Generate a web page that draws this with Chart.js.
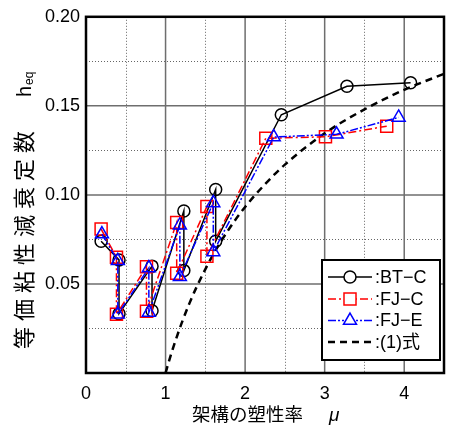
<!DOCTYPE html>
<html>
<head>
<meta charset="utf-8">
<script src="https://cdn.jsdelivr.net/npm/chart.js@4.4.1/dist/chart.umd.min.js"></script>
<style>
  html, body { margin: 0; padding: 0; background: #fff; }
  #wrap { width: 454px; height: 428px; }
</style>
</head>
<body>
<div id="wrap"><canvas id="c" width="454" height="428"></canvas></div>
<script>
// 架構の塑性率 μ と等価粘性減衰定数 heq の関係
const SERIES_NAMES = ['BT−C', 'FJ−C', 'FJ−E', '(1)式'];

const BT_C_MU = [0.19, 0.415, 0.415, 0.83, 0.83, 1.23, 1.23, 1.63, 1.63, 2.455, 3.28, 4.08];
const BT_C_H  = [0.074, 0.0635, 0.0333, 0.060, 0.035, 0.091, 0.0575, 0.103, 0.074, 0.145, 0.161, 0.163];

const FJ_C_MU = [0.19, 0.383, 0.383, 0.76, 0.76, 1.14, 1.14, 1.52, 1.52, 2.26, 3.01, 3.78];
const FJ_C_H  = [0.0808, 0.065, 0.033, 0.0596, 0.0347, 0.0845, 0.056, 0.0935, 0.0655, 0.1318, 0.1326, 0.1386];

const FJ_E_MU = [0.2, 0.4, 0.4, 0.79, 0.79, 1.18, 1.18, 1.6, 1.6, 2.36, 3.15, 3.93];
const FJ_E_H  = [0.078, 0.063, 0.033, 0.059, 0.034, 0.083, 0.054, 0.0955, 0.068, 0.1325, 0.134, 0.1435];

const EQ1_MU = [1.0, 1.05, 1.1, 1.2, 1.3, 1.4, 1.6, 1.8, 2.0, 2.25, 2.5, 3.0, 3.5, 4.0, 4.5];
const EQ1_H  = [0.0, 0.0077, 0.0148, 0.0277, 0.0391, 0.0492, 0.0666, 0.081, 0.0932, 0.106, 0.117, 0.1346, 0.148, 0.159, 0.168];

const X_TICKS = [0, 1, 2, 3, 4];
const Y_TICKS = [0.05, 0.10, 0.15, 0.20];
const X_MAJOR = [1, 2, 3, 4];
const X_MINOR = [0.5, 1.5, 2.5, 3.5];
const Y_MAJOR = [0.05, 0.10, 0.15];
const Y_MINOR = [0.025, 0.075, 0.125, 0.175];

const X_TITLE = '架構の塑性率';
const X_TITLE_SYM = 'μ';
const Y_TITLE = '等価粘性減衰定数';
const Y_TITLE_SYM = 'h';
const Y_TITLE_SUB = 'eq';

const LATIN = '"Liberation Sans", Arial, sans-serif';
const CJK = '"Noto Sans CJK JP", "Liberation Sans", sans-serif';

const pts = (xs, ys) => xs.map((v, i) => ({ x: v, y: ys[i] }));

const datasets = [
  {
    label: SERIES_NAMES[0], data: pts(BT_C_MU, BT_C_H), order: 2,
    borderColor: '#000', borderWidth: 1.5, borderDash: [],
    pointStyle: 'circle', pointRadius: 6, pointBorderWidth: 1.5,
    pointBorderColor: '#000', pointBackgroundColor: 'rgba(0,0,0,0)'
  },
  {
    label: SERIES_NAMES[1], data: pts(FJ_C_MU, FJ_C_H), order: 1,
    borderColor: '#ff0000', borderWidth: 1.5, borderDash: [8, 3, 2, 3],
    pointStyle: 'rect', pointRadius: 8.5, pointBorderWidth: 1.5,
    pointBorderColor: '#ff0000', pointBackgroundColor: 'rgba(0,0,0,0)'
  },
  {
    label: SERIES_NAMES[2], data: pts(FJ_E_MU, FJ_E_H), order: 0,
    borderColor: '#0000ff', borderWidth: 1.5, borderDash: [8, 2, 2, 2, 2, 2],
    pointStyle: 'triangle', pointRadius: 7.5, pointBorderWidth: 1.5,
    pointBorderColor: '#0000ff', pointBackgroundColor: 'rgba(0,0,0,0)'
  },
  {
    label: SERIES_NAMES[3], data: pts(EQ1_MU, EQ1_H), order: 3,
    borderColor: '#000', borderWidth: 2.5, borderDash: [7, 5],
    pointRadius: 0, pointStyle: false, cubicInterpolationMode: 'monotone'
  }
];
datasets.forEach(d => { d.showLine = true; d.fill = false; });

// grid lines: dotted minor, solid grey major
const gridPlugin = {
  id: 'grid',
  beforeDatasetsDraw(chart) {
    const { ctx, chartArea: a, scales: { x, y } } = chart;
    ctx.save();
    ctx.strokeStyle = '#666';
    ctx.lineWidth = 1;
    ctx.setLineDash([1, 2]);
    X_MINOR.forEach(v => {
      const p = Math.round(x.getPixelForValue(v)) + 0.5;
      ctx.beginPath(); ctx.moveTo(p, a.top); ctx.lineTo(p, a.bottom); ctx.stroke();
    });
    Y_MINOR.forEach(v => {
      const p = Math.round(y.getPixelForValue(v)) + 0.5;
      ctx.beginPath(); ctx.moveTo(a.left, p); ctx.lineTo(a.right, p); ctx.stroke();
    });
    ctx.setLineDash([]);
    ctx.strokeStyle = '#6e6e6e';
    ctx.lineWidth = 1.5;
    X_MAJOR.forEach(v => {
      const p = x.getPixelForValue(v);
      ctx.beginPath(); ctx.moveTo(p, a.top); ctx.lineTo(p, a.bottom); ctx.stroke();
    });
    Y_MAJOR.forEach(v => {
      const p = y.getPixelForValue(v);
      ctx.beginPath(); ctx.moveTo(a.left, p); ctx.lineTo(a.right, p); ctx.stroke();
    });
    ctx.restore();
  },
  afterDatasetsDraw(chart) {
    const { ctx, chartArea: a } = chart;
    ctx.save();
    ctx.strokeStyle = '#000';
    ctx.lineWidth = 2.5;
    ctx.strokeRect(a.left, a.top, a.right - a.left, a.bottom - a.top);
    ctx.restore();
  }
};

// axis titles
const titlePlugin = {
  id: 'titles',
  afterDraw(chart) {
    const { ctx } = chart;
    ctx.save();
    ctx.fillStyle = '#000';
    ctx.textBaseline = 'alphabetic';
    ctx.textAlign = 'left';
    ctx.font = '18.5px ' + CJK;
    ctx.fillText(X_TITLE, 192, 421);
    ctx.font = 'italic 19px ' + LATIN;
    ctx.fillText(X_TITLE_SYM, 329, 421);
    ctx.restore();

    ctx.save();
    ctx.translate(24, 349);
    ctx.rotate(-Math.PI / 2);
    ctx.fillStyle = '#000';
    ctx.textAlign = 'left';
    ctx.textBaseline = 'middle';
    ctx.font = '22px ' + CJK;
    if ('letterSpacing' in ctx) ctx.letterSpacing = '6px';
    ctx.fillText(Y_TITLE, 0, 0);
    if ('letterSpacing' in ctx) ctx.letterSpacing = '0px';
    ctx.font = '20px ' + LATIN;
    ctx.fillText(Y_TITLE_SYM, 252, 1);
    ctx.font = '12px ' + LATIN;
    ctx.fillText(Y_TITLE_SUB, 264, 6);
    ctx.restore();
  }
};

// legend box inside the plot
const legendPlugin = {
  id: 'boxLegend',
  afterDraw(chart) {
    const { ctx } = chart;
    const bx = 322, by = 260, bw = 118, bh = 100;
    ctx.save();
    ctx.fillStyle = '#fff';
    ctx.fillRect(bx, by, bw, bh);
    ctx.strokeStyle = '#000';
    ctx.lineWidth = 2;
    ctx.strokeRect(bx, by, bw, bh);
    const rows = [277, 299, 320.5, 342];
    chart.data.datasets.forEach((d, i) => {
      const yy = rows[i];
      ctx.save();
      ctx.strokeStyle = d.borderColor;
      ctx.lineWidth = d.borderWidth;
      ctx.setLineDash(d.borderDash || []);
      ctx.beginPath(); ctx.moveTo(328, yy); ctx.lineTo(372, yy); ctx.stroke();
      ctx.setLineDash([]);
      if (d.pointRadius > 0) {
        ctx.strokeStyle = d.pointBorderColor;
        ctx.fillStyle = '#fff';
        ctx.lineWidth = d.pointBorderWidth;
        Chart.helpers.drawPoint(ctx, {
          pointStyle: d.pointStyle, radius: d.pointRadius, rotation: 0,
          borderWidth: d.pointBorderWidth
        }, 350, yy);
      }
      ctx.restore();
      ctx.fillStyle = '#000';
      ctx.font = '18px ' + LATIN + ', "Noto Sans CJK JP"';
      ctx.textBaseline = 'middle';
      ctx.textAlign = 'left';
      ctx.fillText(':' + d.label, 375, yy + 1);
    });
    ctx.restore();
  }
};

new Chart(document.getElementById('c'), {
  type: 'scatter',
  data: { datasets },
  options: {
    responsive: false,
    animation: false,
    events: [],
    layout: { padding: { top: 14, right: 0, bottom: 0, left: 0 } },
    plugins: { legend: { display: false }, tooltip: { enabled: false } },
    scales: {
      x: {
        type: 'linear', min: 0, max: 4.5,
        grid: { display: false, drawTicks: false },
        border: { display: false },
        afterFit(s) { s.height = 55; },
        afterBuildTicks(s) { s.ticks = X_TICKS.map(v => ({ value: v })); },
        ticks: {
          padding: 10, color: '#000',
          font: { family: LATIN, size: 18 },
          callback: v => String(v)
        }
      },
      y: {
        type: 'linear', min: 0, max: 0.2,
        grid: { display: false, drawTicks: false },
        border: { display: false },
        afterFit(s) { s.width = 86; },
        afterBuildTicks(s) { s.ticks = Y_TICKS.map(v => ({ value: v })); },
        ticks: {
          padding: 6, color: '#000',
          font: { family: LATIN, size: 18 },
          callback: v => Number(v).toFixed(2)
        }
      }
    }
  },
  plugins: [gridPlugin, titlePlugin, legendPlugin]
});
</script>
</body>
</html>
